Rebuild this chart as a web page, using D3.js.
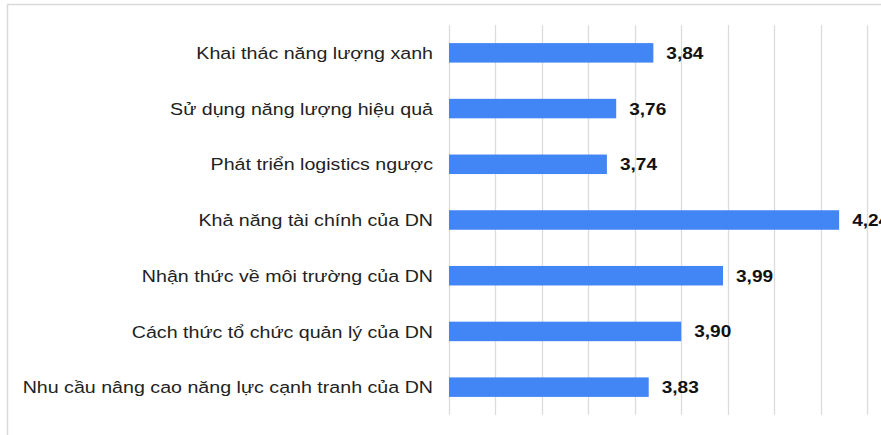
<!DOCTYPE html>
<html>
<head>
<meta charset="utf-8">
<script src="https://cdn.jsdelivr.net/npm/d3@7"></script>
<style>
  html, body { margin: 0; padding: 0; background: #fff; }
  svg { display: block; }
</style>
</head>
<body>
<div id="chart"></div>
<script>
// Mean scores for each factor
const categories = [
  "Khai thác năng lượng xanh",
  "Sử dụng năng lượng hiệu quả",
  "Phát triển logistics ngược",
  "Khả năng tài chính của DN",
  "Nhận thức về môi trường của DN",
  "Cách thức tổ chức quản lý của DN",
  "Nhu cầu nâng cao năng lực cạnh tranh của DN"
];
const values = [3.84, 3.76, 3.74, 4.24, 3.99, 3.90, 3.83];
const gridTicks = [3.4, 3.5, 3.6, 3.7, 3.8, 3.9, 4.0, 4.1, 4.2, 4.3];

const W = 881, H = 435;
const stretch = 1.155; // text is drawn slightly wide
const svg = d3.select("#chart").append("svg")
  .attr("width", W).attr("height", H);

// light frame around the chart area
svg.append("rect")
  .attr("x", 7.5).attr("y", 4.5)
  .attr("width", W + 20).attr("height", H + 20)
  .attr("fill", "none")
  .attr("stroke", "#dadada")
  .attr("stroke-width", 1.5);

const x = d3.scaleLinear().domain([3.4, 4.3]).range([449, 867]);
const y = d3.scaleBand().domain(categories).range([25, 415]).paddingInner(0.65).paddingOuter(0.325);

// vertical gridlines
svg.append("g")
  .selectAll("line")
  .data(gridTicks)
  .join("line")
  .attr("x1", d => Math.round(x(d)) + 0.5)
  .attr("x2", d => Math.round(x(d)) + 0.5)
  .attr("y1", 25).attr("y2", 415)
  .attr("stroke", "#dcdcdc")
  .attr("stroke-width", 1.3);

// bars
svg.append("g")
  .selectAll("rect")
  .data(values)
  .join("rect")
  .attr("x", x(3.4))
  .attr("y", (d, i) => y(categories[i]))
  .attr("width", d => x(d) - x(3.4))
  .attr("height", y.bandwidth())
  .attr("fill", "#4285f4");

// category labels
svg.append("g")
  .selectAll("text")
  .data(categories)
  .join("text")
  .attr("transform", d => `translate(433,${y(d) + y.bandwidth() / 2}) scale(${stretch},1)`)
  .attr("dy", "0.36em")
  .attr("text-anchor", "end")
  .attr("font-family", "Liberation Sans, Arial, sans-serif")
  .attr("font-size", 17)
  .attr("fill", "#222")
  .text(d => d);

// value labels
const fmt = v => v.toFixed(2).replace(".", ",");
svg.append("g")
  .selectAll("text")
  .data(values)
  .join("text")
  .attr("transform", (d, i) => `translate(${x(d) + 13},${y(categories[i]) + y.bandwidth() / 2}) scale(${stretch},1)`)
  .attr("dy", "0.36em")
  .attr("font-family", "Liberation Sans, Arial, sans-serif")
  .attr("font-size", 16.5)
  .attr("font-weight", "bold")
  .attr("fill", "#111")
  .text(fmt);
</script>
</body>
</html>
